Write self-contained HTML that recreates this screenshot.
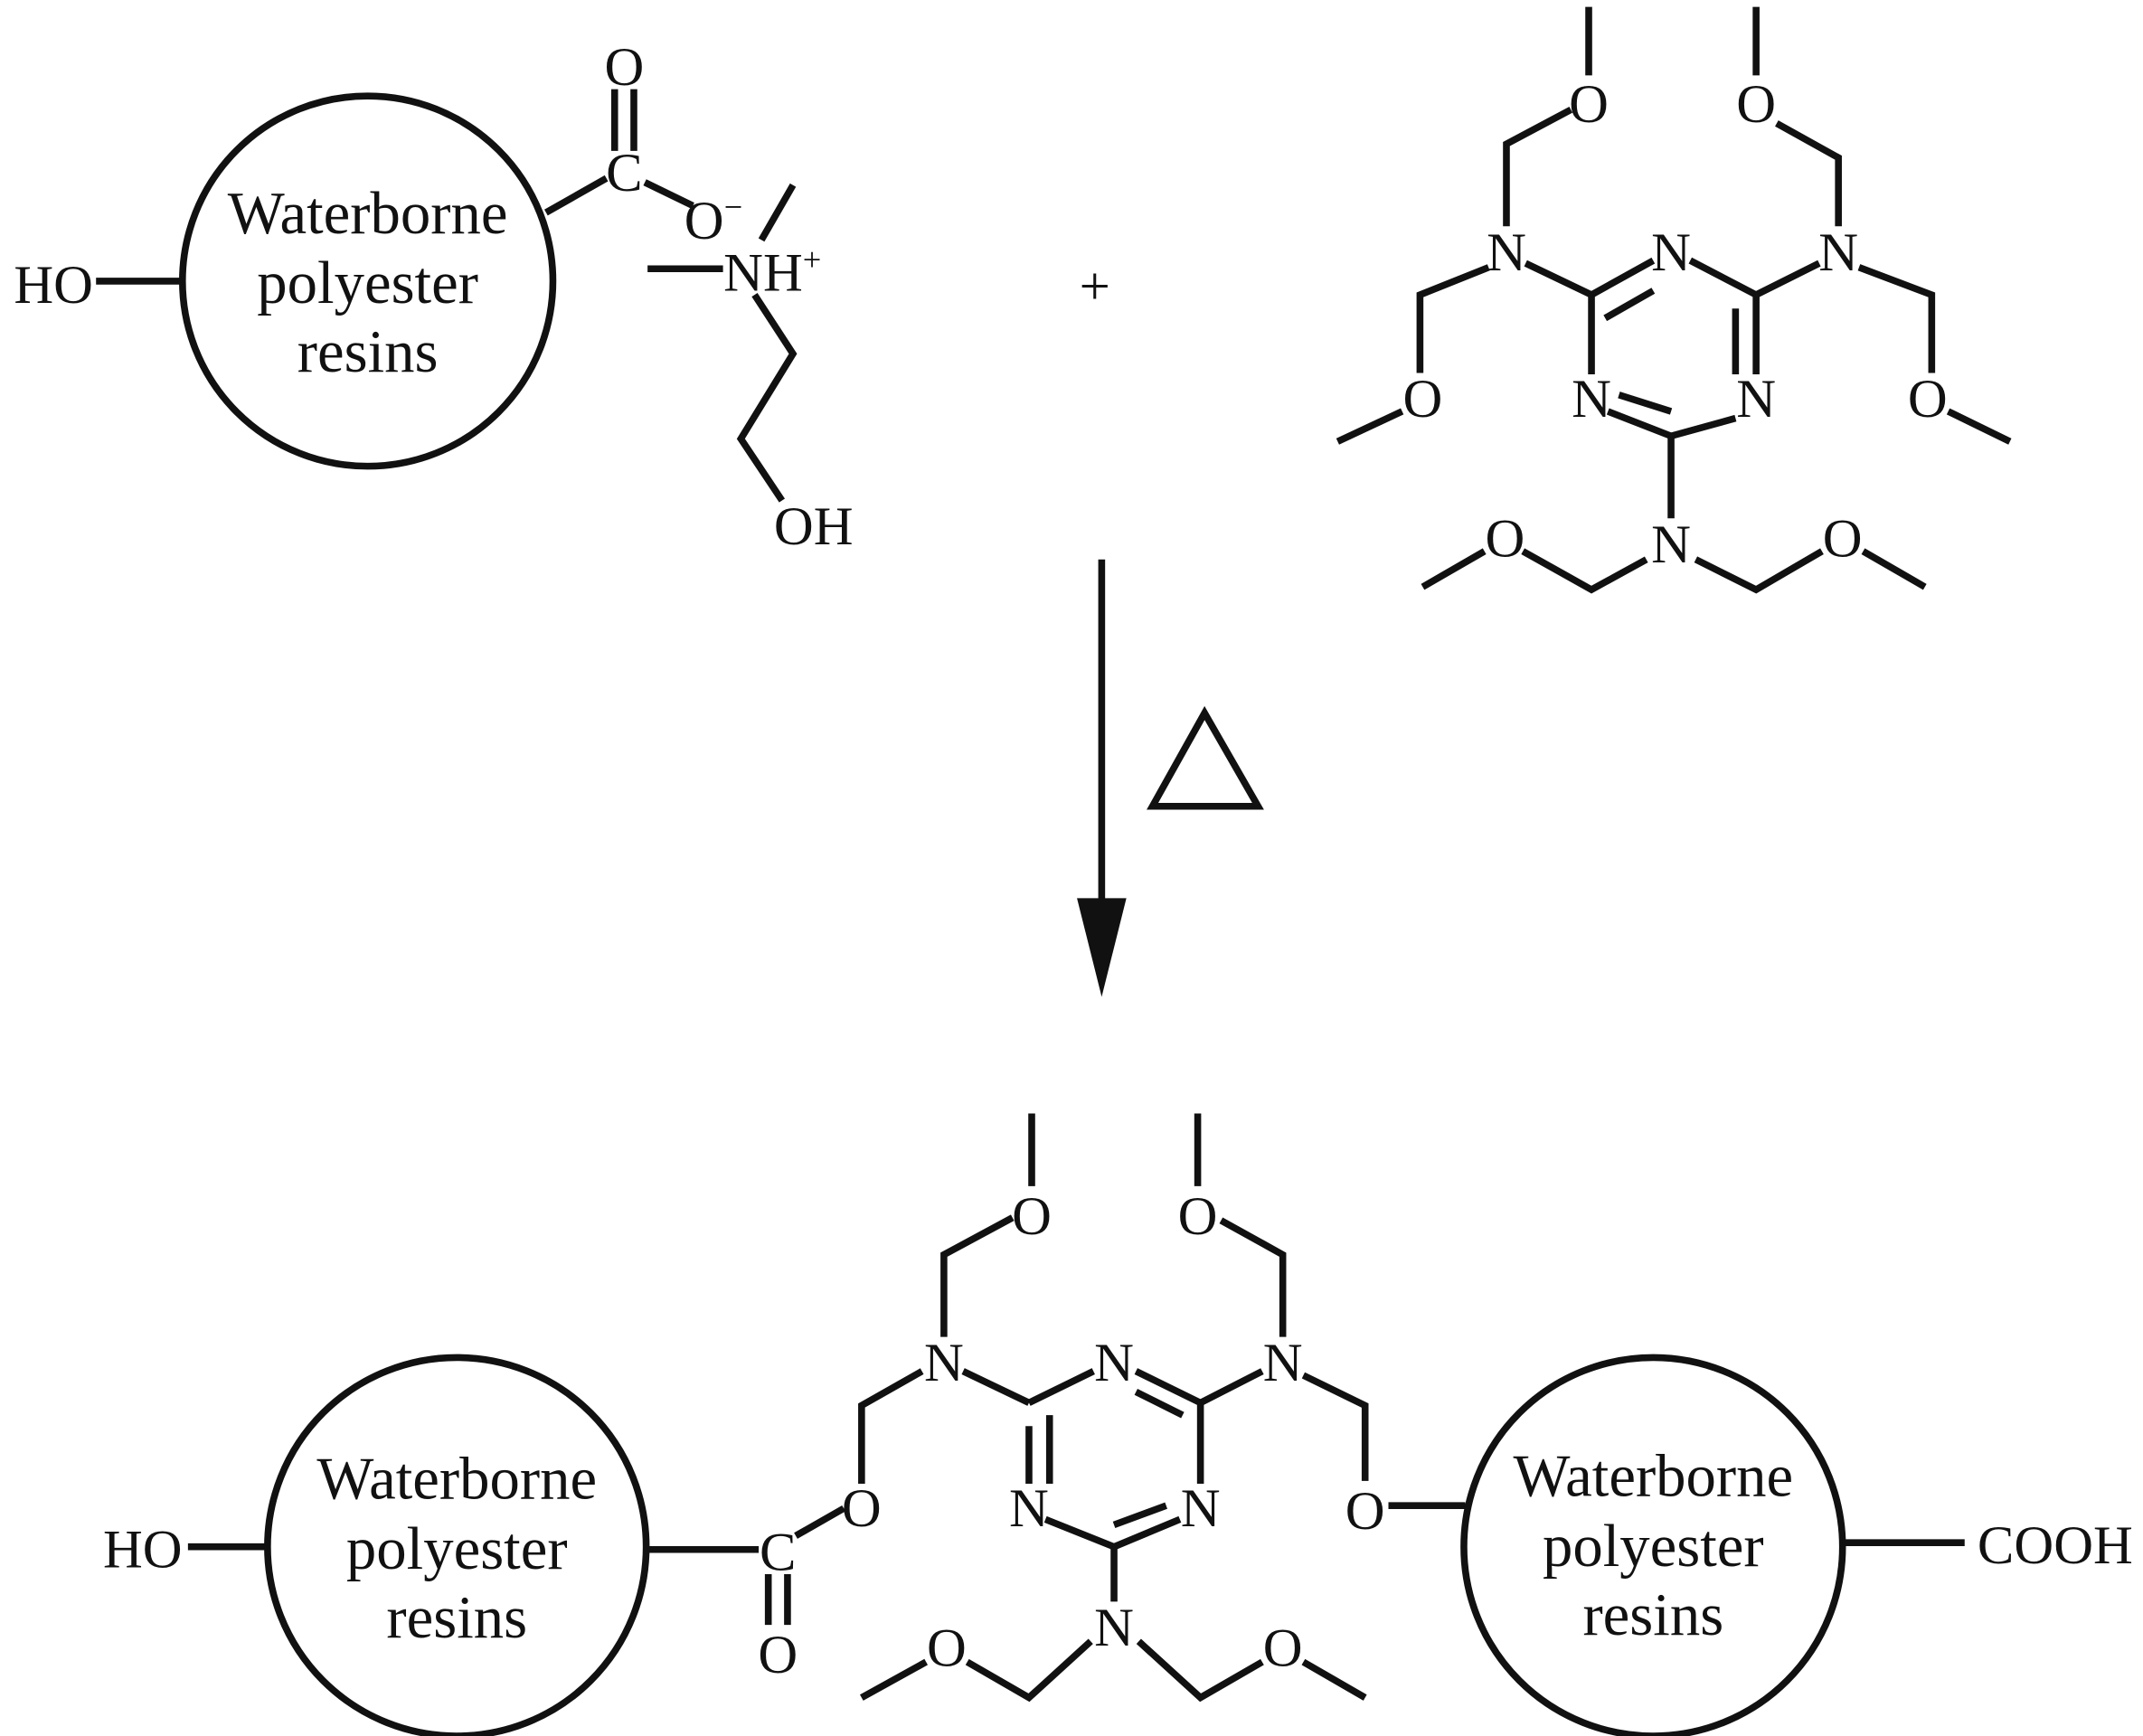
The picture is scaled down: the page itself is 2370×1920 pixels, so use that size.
<!DOCTYPE html>
<html><head><meta charset="utf-8"><style>
html,body{margin:0;padding:0;background:#fff;}
svg{display:block;}
text{font-family:"Liberation Serif",serif;fill:#111;}
</style></head><body>
<svg width="2370" height="1920" viewBox="0 0 1562 1266" preserveAspectRatio="none" xmlns="http://www.w3.org/2000/svg">
<g stroke="#111" stroke-width="5" fill="none" stroke-linecap="butt">
<circle cx="268" cy="205" r="135"/>
<line x1="70" y1="205" x2="133" y2="205"/>
<line x1="398" y1="155" x2="442" y2="130"/>
<line x1="448" y1="65" x2="448" y2="110"/>
<line x1="462" y1="65" x2="462" y2="110"/>
<line x1="470" y1="133" x2="505" y2="150"/>
<line x1="555" y1="175" x2="578" y2="135"/>
<line x1="472" y1="196" x2="527" y2="196"/>
<polyline points="550,215 578,258 540,320 570,365"/>
<line x1="1160" y1="215" x2="1205" y2="190"/>
<line x1="1170" y1="232" x2="1205" y2="212"/>
<line x1="1232" y1="190" x2="1280" y2="215"/>
<line x1="1280" y1="215" x2="1280" y2="273"/>
<line x1="1265" y1="225" x2="1265" y2="273"/>
<line x1="1265" y1="305" x2="1218" y2="318"/>
<line x1="1218" y1="318" x2="1172" y2="300"/>
<line x1="1218" y1="300" x2="1180" y2="288"/>
<line x1="1160" y1="273" x2="1160" y2="215"/>
<line x1="1160" y1="215" x2="1112" y2="192"/>
<polyline points="1098,165 1098,105 1145,80"/>
<line x1="1158" y1="55" x2="1158" y2="5"/>
<polyline points="1085,195 1035,215 1035,272"/>
<line x1="1022" y1="300" x2="975" y2="322"/>
<line x1="1280" y1="215" x2="1326" y2="192"/>
<polyline points="1340,165 1340,115 1295,90"/>
<line x1="1280" y1="55" x2="1280" y2="5"/>
<polyline points="1355,195 1408,215 1408,272"/>
<line x1="1420" y1="300" x2="1465" y2="322"/>
<line x1="1218" y1="318" x2="1218" y2="378"/>
<polyline points="1200,408 1160,430 1110,402"/>
<line x1="1082" y1="402" x2="1037" y2="428"/>
<polyline points="1236,408 1280,430 1328,402"/>
<line x1="1358" y1="402" x2="1403" y2="428"/>
<line x1="803" y1="408" x2="803" y2="670"/>
<polygon points="785,655 803,727 821,655" fill="#111" stroke="none"/>
<polygon points="840,588 917,588 878,520" stroke-width="5"/>
<circle cx="333" cy="1128" r="138"/>
<line x1="137" y1="1128" x2="195" y2="1128"/>
<line x1="472" y1="1130" x2="553" y2="1130"/>
<line x1="560" y1="1148" x2="560" y2="1185"/>
<line x1="574" y1="1148" x2="574" y2="1185"/>
<line x1="580" y1="1120" x2="615" y2="1100"/>
<polyline points="628,1082 628,1025 672,1000"/>
<polyline points="688,975 688,915 738,888"/>
<line x1="752" y1="865" x2="752" y2="812"/>
<line x1="702" y1="1000" x2="750" y2="1023"/>
<line x1="750" y1="1023" x2="797" y2="1000"/>
<line x1="750" y1="1040" x2="750" y2="1082"/>
<line x1="765" y1="1032" x2="765" y2="1082"/>
<line x1="762" y1="1108" x2="812" y2="1128"/>
<line x1="812" y1="1128" x2="860" y2="1108"/>
<line x1="812" y1="1112" x2="850" y2="1098"/>
<line x1="875" y1="1082" x2="875" y2="1023"/>
<line x1="875" y1="1023" x2="828" y2="1000"/>
<line x1="862" y1="1032" x2="828" y2="1015"/>
<line x1="875" y1="1023" x2="920" y2="1000"/>
<polyline points="935,975 935,915 890,890"/>
<line x1="873" y1="865" x2="873" y2="812"/>
<polyline points="950,1003 995,1025 995,1080"/>
<line x1="1012" y1="1098" x2="1068" y2="1098"/>
<circle cx="1205" cy="1128" r="138"/>
<line x1="1343" y1="1125" x2="1432" y2="1125"/>
<line x1="812" y1="1128" x2="812" y2="1168"/>
<polyline points="795,1197 750,1238 705,1212"/>
<line x1="675" y1="1212" x2="628" y2="1238"/>
<polyline points="830,1197 875,1238 920,1212"/>
<line x1="950" y1="1212" x2="995" y2="1238"/>
</g>
<g font-size="44" text-anchor="middle">
<text x="268" y="170">Waterborne</text>
<text x="268" y="221">polyester</text>
<text x="268" y="271">resins</text>
<text x="333" y="1093">Waterborne</text>
<text x="333" y="1144">polyester</text>
<text x="333" y="1194">resins</text>
<text x="1205" y="1091">Waterborne</text>
<text x="1205" y="1142">polyester</text>
<text x="1205" y="1192">resins</text>
</g>
<g font-size="40" text-anchor="middle">
<text x="39" y="221">HO</text>
<text x="455" y="62">O</text>
<text x="455" y="139">C</text>
<text x="520" y="174">O<tspan font-size="24" dy="-15">−</tspan></text>
<text x="563" y="212">NH<tspan font-size="24" dy="-15">+</tspan></text>
<text x="593" y="397">OH</text>
<text x="798" y="222" font-size="40">+</text>
<text x="1158" y="89">O</text>
<text x="1280" y="89">O</text>
<text x="1098" y="197">N</text>
<text x="1218" y="197">N</text>
<text x="1340" y="197">N</text>
<text x="1160" y="304">N</text>
<text x="1280" y="304">N</text>
<text x="1037" y="304">O</text>
<text x="1405" y="304">O</text>
<text x="1218" y="410">N</text>
<text x="1097" y="406">O</text>
<text x="1343" y="406">O</text>
<text x="104" y="1143">HO</text>
<text x="567" y="1145">C</text>
<text x="567" y="1220">O</text>
<text x="628" y="1113">O</text>
<text x="752" y="900">O</text>
<text x="873" y="900">O</text>
<text x="688" y="1007">N</text>
<text x="812" y="1007">N</text>
<text x="935" y="1007">N</text>
<text x="750" y="1113">N</text>
<text x="875" y="1113">N</text>
<text x="995" y="1115">O</text>
<text x="812" y="1200">N</text>
<text x="690" y="1215">O</text>
<text x="935" y="1215">O</text>
<text x="1498" y="1140">COOH</text>
</g>
</svg>
</body></html>
